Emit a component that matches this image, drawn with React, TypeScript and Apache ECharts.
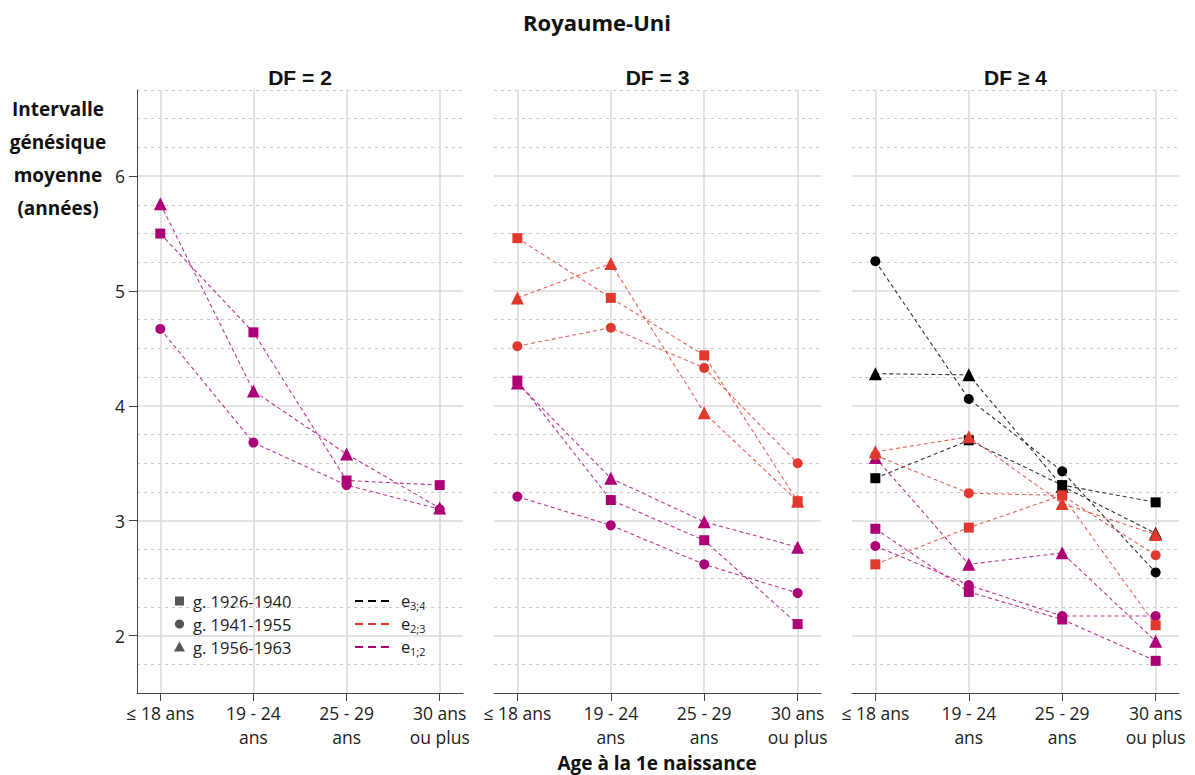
import React, { useEffect, useRef } from "react";
import * as echarts from "echarts";

// ---------- data ----------
const ageGroups = ["≤ 18 ans", "19 - 24\nans", "25 - 29\nans", "30 ans\nou plus"];
const panelTitles = ["DF = 2", "DF = 3", "DF ≥ 4"];
const cohortLabels = ["g. 1926-1940", "g. 1941-1955", "g. 1956-1963"];
const intervalLabels = [
  ["e", "3;4"],
  ["e", "2;3"],
  ["e", "1;2"],
];
const yTicks = [2, 3, 4, 5, 6];
const yMinorTicks = [1.75, 2.25, 2.5, 2.75, 3.25, 3.5, 3.75, 4.25, 4.5, 4.75, 5.25, 5.5, 5.75, 6.25, 6.5, 6.75];
const xTicks = [0, 1, 2, 3];

// DF = 2 (e1;2)
const df2_e12_g1926 = [5.5, 4.64, 3.35, 3.31];
const df2_e12_g1941 = [4.67, 3.68, 3.31, 3.1];
const df2_e12_g1956 = [5.76, 4.13, 3.58, 3.11];

// DF = 3
const df3_e23_g1926 = [5.46, 4.94, 4.44, 3.17];
const df3_e23_g1941 = [4.52, 4.68, 4.33, 3.5];
const df3_e23_g1956 = [4.94, 5.24, 3.94, 3.17];
const df3_e12_g1926 = [4.22, 3.18, 2.83, 2.1];
const df3_e12_g1941 = [3.21, 2.96, 2.62, 2.37];
const df3_e12_g1956 = [4.2, 3.37, 2.99, 2.77];

// DF >= 4
const df4_e34_g1926 = [3.37, 3.7, 3.31, 3.16];
const df4_e34_g1941 = [5.26, 4.06, 3.43, 2.55];
const df4_e34_g1956 = [4.28, 4.27, 3.3, 2.89];
const df4_e23_g1926 = [2.62, 2.94, 3.22, 2.09];
const df4_e23_g1941 = [3.57, 3.24, 3.22, 2.7];
const df4_e23_g1956 = [3.6, 3.73, 3.15, 2.88];
const df4_e12_g1926 = [2.93, 2.38, 2.14, 1.78];
const df4_e12_g1941 = [2.78, 2.44, 2.17, 2.17];
const df4_e12_g1956 = [3.55, 2.62, 2.72, 1.95];

// ---------- styling ----------
const C_BLACK = "#000000";
const C_RED = "#E2392F";
const C_MAG = "#AD0077";
const FONT = "'Open Sans', 'Noto Sans', sans-serif";
const FONT_TITLE = "'Liberation Sans', Arial, sans-serif";

const symbols = ["rect", "circle", "triangle"];
const symbolSizes = [10, 10, 13];

type Line = { values: number[]; color: string; cohort: number };

const panelLines: Line[][] = [
  [
    { values: df2_e12_g1926, color: C_MAG, cohort: 0 },
    { values: df2_e12_g1941, color: C_MAG, cohort: 1 },
    { values: df2_e12_g1956, color: C_MAG, cohort: 2 },
  ],
  [
    { values: df3_e12_g1926, color: C_MAG, cohort: 0 },
    { values: df3_e12_g1941, color: C_MAG, cohort: 1 },
    { values: df3_e12_g1956, color: C_MAG, cohort: 2 },
    { values: df3_e23_g1926, color: C_RED, cohort: 0 },
    { values: df3_e23_g1941, color: C_RED, cohort: 1 },
    { values: df3_e23_g1956, color: C_RED, cohort: 2 },
  ],
  [
    { values: df4_e12_g1926, color: C_MAG, cohort: 0 },
    { values: df4_e12_g1941, color: C_MAG, cohort: 1 },
    { values: df4_e12_g1956, color: C_MAG, cohort: 2 },
    { values: df4_e34_g1926, color: C_BLACK, cohort: 0 },
    { values: df4_e34_g1941, color: C_BLACK, cohort: 1 },
    { values: df4_e34_g1956, color: C_BLACK, cohort: 2 },
    { values: df4_e23_g1926, color: C_RED, cohort: 0 },
    { values: df4_e23_g1941, color: C_RED, cohort: 1 },
    { values: df4_e23_g1956, color: C_RED, cohort: 2 },
  ],
];

const gridBoxes = [
  { left: 137, width: 326 },
  { left: 494, width: 327 },
  { left: 852, width: 327 },
];
const GRID_TOP = 90;
const GRID_H = 603;

function buildOption(): any {
  const grid = gridBoxes.map((g) => ({ left: g.left, width: g.width, top: GRID_TOP, height: GRID_H, containLabel: false }));

  const xAxis = gridBoxes.map((_, i) => ({
    type: "value",
    gridIndex: i,
    min: -0.25,
    max: 3.25,
    z: 5,
    axisLine: { show: true, onZero: false, lineStyle: { color: "#444", width: 1 } },
    axisTick: { show: true, length: 8, customValues: xTicks, lineStyle: { color: "#444" } },
    axisLabel: {
      customValues: xTicks,
      formatter: (v: number) => (Number.isInteger(v) && v >= 0 && v <= 3 ? ageGroups[v] : ""),
      fontFamily: FONT,
      fontSize: 17.5,
      lineHeight: 24,
      color: "#222",
      margin: 8,
      verticalAlign: "top",
    },
    splitLine: { show: false },
  }));

  const yAxis = gridBoxes.map((_, i) => ({
    type: "value",
    gridIndex: i,
    min: 1.5,
    max: 6.75,
    interval: 0.25,
    z: 5,
    axisLine: { show: i === 0, onZero: false, lineStyle: { color: "#444", width: 1 } },
    axisTick: { show: i === 0, length: 8, customValues: yTicks, lineStyle: { color: "#444" } },
    axisLabel: {
      show: i === 0,
      customValues: yTicks,
      formatter: (v: number) => (Number.isInteger(v) ? String(v) : ""),
      fontFamily: FONT,
      fontSize: 17.5,
      color: "#222",
      margin: 12,
    },
    splitLine: { show: false },
  }));

  const series: any[] = [];
  gridBoxes.forEach((_, i) => {
    series.push({
      type: "line",
      xAxisIndex: i,
      yAxisIndex: i,
      data: [],
      silent: true,
      z: 1,
      markLine: {
        silent: true,
        z: 1,
        symbol: ["none", "none"],
        label: { show: false },
        animation: false,
        lineStyle: { color: "#dadada", type: "solid", width: 1.5 },
        emphasis: { disabled: true },
        data: [
          ...yMinorTicks.map((y) => ({ yAxis: y, lineStyle: { color: "#c8c8c8", type: [3, 4], width: 1 } })),
          ...xTicks.map((x) => ({ xAxis: x })),
          ...yTicks.map((y) => ({ yAxis: y })),
        ],
      },
    });
  });

  panelLines.forEach((lines, pi) => {
    lines.forEach((ln, li) => {
      series.push({
        type: "line",
        xAxisIndex: pi,
        yAxisIndex: pi,
        z: 10 + li,
        data: ln.values.map((v, k) => [k, v]),
        symbol: symbols[ln.cohort],
        symbolSize: symbolSizes[ln.cohort],
        showAllSymbol: true,
        lineStyle: { color: ln.color, width: 1.1, type: [4, 3], opacity: 0.8 },
        itemStyle: { color: ln.color, opacity: 1, borderWidth: 0 },
        emphasis: { disabled: true },
      });
    });
  });

  const graphic: any[] = [];
  graphic.push({
    type: "text",
    x: 597,
    y: 22,
    style: { text: "Royaume-Uni", font: `bold 22px ${FONT}`, fill: "#111", textAlign: "center", textVerticalAlign: "middle" },
  });
  panelTitles.forEach((t, i) => {
    graphic.push({
      type: "text",
      x: gridBoxes[i].left + gridBoxes[i].width / 2,
      y: 77,
      style: { text: t, font: `bold 21px ${FONT_TITLE}`, fill: "#111", textAlign: "center", textVerticalAlign: "middle" },
    });
  });
  graphic.push({
    type: "text",
    x: 58,
    y: 92,
    style: {
      text: "Intervalle\ngénésique\nmoyenne\n(années)",
      font: `bold 19px ${FONT}`,
      lineHeight: 33,
      fill: "#111",
      textAlign: "center",
      textVerticalAlign: "top",
    },
  });
  graphic.push({
    type: "text",
    x: 657,
    y: 763,
    style: { text: "Age à la 1e naissance", font: `bold 19px ${FONT}`, fill: "#111", textAlign: "center", textVerticalAlign: "middle" },
  });

  // legend: cohorts (markers)
  const legY = [601, 624, 647];
  const grey = "#555";
  graphic.push({ type: "rect", shape: { x: 175, y: legY[0] - 4.5, width: 9, height: 9 }, style: { fill: grey } });
  graphic.push({ type: "circle", shape: { cx: 179.5, cy: legY[1], r: 4.6 }, style: { fill: grey } });
  graphic.push({
    type: "polygon",
    shape: { points: [[179.5, legY[2] - 5.5], [185, legY[2] + 4.5], [174, legY[2] + 4.5]] },
    style: { fill: grey },
  });
  cohortLabels.forEach((t, i) => {
    graphic.push({
      type: "text",
      x: 193,
      y: legY[i],
      style: { text: t, font: `16.5px ${FONT}`, fill: "#222", textAlign: "left", textVerticalAlign: "middle" },
    });
  });
  // legend: intervals (lines)
  const lineColors = [C_BLACK, C_RED, C_MAG];
  intervalLabels.forEach((lab, i) => {
    graphic.push({
      type: "line",
      shape: { x1: 355, y1: legY[i], x2: 393, y2: legY[i] },
      style: { stroke: lineColors[i], lineWidth: 2.2, lineDash: [8, 5] },
    });
    graphic.push({
      type: "text",
      x: 401,
      y: legY[i] - 1,
      style: { text: lab[0], font: `16.5px ${FONT}`, fill: "#222", textAlign: "left", textVerticalAlign: "middle" },
    });
    graphic.push({
      type: "text",
      x: 410,
      y: legY[i] + 4,
      style: { text: lab[1], font: `11px ${FONT}`, fill: "#222", textAlign: "left", textVerticalAlign: "middle" },
    });
  });

  return {
    animation: false,
    backgroundColor: "#ffffff",
    grid,
    xAxis,
    yAxis,
    series,
    graphic,
  };
}

export default function App() {
  const ref = useRef<HTMLDivElement>(null);
  useEffect(() => {
    if (!ref.current) return;
    const chart = echarts.init(ref.current, undefined, { renderer: "svg" });
    chart.setOption(buildOption());
    return () => chart.dispose();
  }, []);
  return (
    <div
      ref={ref}
      style={{ position: "fixed", left: 0, top: 0, width: 1195, height: 775, background: "#fff" }}
    />
  );
}
